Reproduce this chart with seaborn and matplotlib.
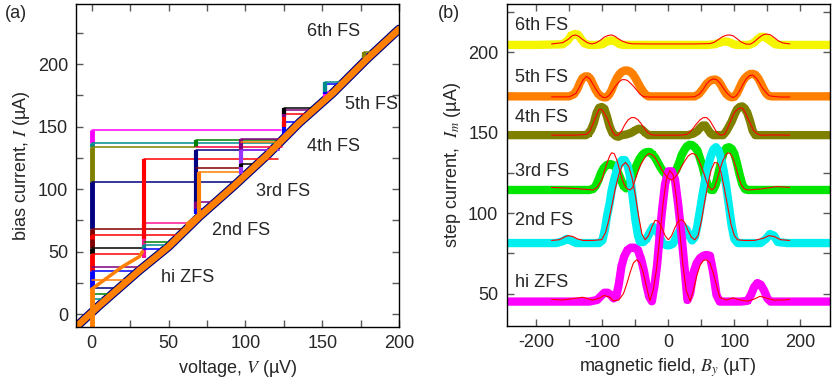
import matplotlib
matplotlib.use('Agg')
import matplotlib.pyplot as plt
import seaborn as sns
from matplotlib.ticker import MultipleLocator

sns.set_theme(style='ticks')
plt.rcParams['font.family'] = ['Liberation Sans', 'DejaVu Sans']
plt.rcParams['mathtext.fontset'] = 'stix'
plt.rcParams['axes.unicode_minus'] = False
plt.rcParams['xtick.direction'] = 'in'
plt.rcParams['ytick.direction'] = 'in'

# ==================== panel (a): I-V curves ====================
# resistive branch
DIAG_V = [-10, 5, 31, 50, 70, 92, 114, 135, 157, 179, 200]
DIAG_I = [-10, 7, 35, 54, 78, 102, 127, 153, 177, 204, 228]

# lower bent parts of the step branches
ZFS_TAIL_V = [0, 10, 20, 31, 33]
ZFS_TAIL_I = [20, 29, 38, 46, 50]
FS2_TAIL_V = [62, 66, 70]
FS2_TAIL_I = [72, 76, 80]

# traces: branch voltage, branch start current, switching current, landing voltage, colour
TR_V = [0, 0, 0, 0, 0, 0, 0, 0, 0, 0, 0, 0, 0, 0, 0,
        34, 34, 34, 34, 34,
        68, 68, 68, 68, 68, 68, 70,
        97, 97, 97, 97,
        125, 125, 125, 125,
        152, 152, 152,
        177, 177]
TR_LO = [137, 134, 105, 68, 53, 60, 48, 34.5, 38, 20, 27.5, 21, 16, 12, -10,
         45, 60, 57.5, 52, 52,
         134, 134, 84, 117, 82, 80, 80,
         130, 112, 138, 118,
         140, 150, 158, 160,
         170, 176, 178,
         200, 205]
TR_HI = [147, 137, 134, 105.5, 68, 63.5, 53, 48, 38, 34.5, 27.5, 21, 16, 12, 20,
         73, 124.5, 57.5, 55, 52,
         139.5, 134, 131.5, 117, 90, 84, 114,
         140, 131, 138, 120,
         154, 160, 163, 165,
         178, 184, 186,
         207, 210]
TR_END = [123, 121, 67, 92, 58, 56, 33, 31, 30, 26, 21, 17, 14, 11, 0,
          62, 121, 49, 47, 44,
          120, 124, 122, 97, 79, 73, 98,
          123, 122, 121, 104,
          137, 141, 142, 144,
          158, 161, 163,
          184, 186]
TR_COL = ['#ff00ff', '#008b8b', '#808000', '#000080', '#800000', '#ff0000', '#000000',
          '#ff0000', '#800080', '#0000ff', '#ff8000', '#000080', '#008000', '#008b8b', '#ff8000',
          '#ff1493', '#ff0000', '#008000', '#008b8b', '#0000ff',
          '#008000', '#ff0040', '#000080', '#800000', '#800080', '#0000ff', '#ff8000',
          '#800080', '#9933ff', '#ff8000', '#000000',
          '#0000ff', '#ff0000', '#800080', '#000000',
          '#ff00ff', '#0000ff', '#008b8b',
          '#000080', '#808000']

A_LABELS = ['6th FS', '5th FS', '4th FS', '3rd FS', '2nd FS', 'hi ZFS']
A_LABEL_V = [140, 165, 140, 107, 78, 45]
A_LABEL_I = [226, 168, 134, 98, 67, 29.5]

# ==================== panel (b): step current vs field ====================
ZFS_B = [-245, -200, -150, -120, -108, -102, -97, -92, -87, -83, -79, -75, -71, -67, -62, -57, -52, -46, -41, -37,
         -33, -29, -25, -21, -17, -14, -10, -5, 0, 5, 10, 15, 20, 25, 29, 33, 38, 43, 48, 53,
         58, 63, 68, 73, 78, 90, 110, 120, 125, 130, 135, 140, 145, 150, 155, 170, 200, 245]
ZFS_I = [45, 45, 45, 45, 46, 48.5, 50.5, 50.5, 49, 47, 48, 56, 67, 73, 77, 78.5, 78.5, 77, 71, 64,
         55, 48, 45.2, 55, 68, 82, 100, 118, 126, 126, 121, 105, 86, 64, 46, 50, 63, 69, 72, 73.5,
         74, 73.5, 63, 49, 45, 45, 45, 45.5, 49, 54, 56.5, 55.5, 52, 47, 45, 45, 45, 45]
ZFS_FIT_B = [-177, -160, -145, -130, -115, -105, -98, -90, -83, -75, -68, -63, -58, -53, -48, -43, -38, -33, -28, -23,
             -18, -13, -8, -3, 2, 7, 12, 17, 22, 27, 33, 38, 43, 48, 53, 58, 63, 68, 73, 78,
             88, 98, 108, 120, 130, 139, 150, 160, 172, 184]
ZFS_FIT_I = [46.3, 46, 46.8, 47.7, 45.9, 47, 48.8, 48, 45.5, 46, 50, 56, 63, 69, 71, 69, 63, 54, 45.5, 52,
             65, 85, 106, 121, 126.5, 124, 110, 90, 68, 52, 45.3, 52, 61, 67.5, 70.5, 71, 69, 63, 55, 47.5,
             46, 47.3, 46, 45.3, 46.5, 48.3, 47, 45.9, 46, 46.3]

FS2_B = [-245, -200, -170, -160, -154, -148, -140, -120, -105, -100, -96, -93, -89, -86, -82, -78, -74, -70, -66, -62,
         -58, -54, -50, -46, -43, -38, -33, -28, -23, -18, -13, -8, -3, 2, 7, 12, 17, 22, 27, 32,
         36, 40, 44, 48, 52, 56, 60, 64, 68, 72, 76, 80, 84, 88, 92, 96, 100, 105, 120, 140,
         148, 154, 160, 166, 180, 200, 245]
FS2_I = [81.4, 81.4, 81.4, 82.5, 84, 83, 81.4, 81.4, 81.4, 83, 90, 98, 106, 114, 121, 127, 131, 133, 133, 130,
         123, 110, 96, 86, 82, 82, 84, 88, 91.5, 90, 85, 81, 80, 80, 81, 85, 89, 91.5, 90, 86,
         83, 85, 92, 102, 112, 121, 129, 135, 139.5, 141, 139, 134, 126, 116, 104, 92, 84, 81.4, 81.4, 81.4,
         84, 87, 86, 82, 81.4, 81.4, 81.4]
FS2_FIT_B = [-177, -165, -158, -152, -145, -138, -129, -115, -101, -95, -90, -85, -80, -75, -70, -65, -60, -55, -50, -45,
             -40, -35, -30, -25, -20, -15, -10, -5, 0, 5, 10, 15, 20, 25, 30, 35, 40, 45, 50, 55,
             60, 65, 70, 75, 80, 85, 90, 95, 100, 105, 115, 130, 145, 152, 160, 170, 184]
FS2_FIT_I = [83, 83.5, 85, 86, 85.5, 84, 83, 83, 83.5, 88, 96, 106, 116, 124, 129.5, 131.5, 129, 122, 111, 98,
             87, 83.4, 86, 91.5, 95.5, 95, 91, 86, 83.4, 86, 91, 95, 96, 94, 89, 85, 83.4, 86, 95, 107,
             118, 127, 131.5, 131, 125, 115, 104, 93, 86, 83.4, 83, 83, 84.5, 86, 85.5, 83.5, 83]

FS3_B = [-245, -200, -150, -120, -114, -110, -106, -102, -98, -93, -88, -84, -80, -76, -72, -68, -64, -60, -56, -52,
         -48, -44, -40, -36, -32, -28, -24, -20, -16, -12, -8, -4, 0, 4, 8, 12, 16, 20, 24, 28,
         32, 36, 40, 44, 48, 52, 56, 60, 64, 68, 72, 76, 80, 84, 88, 92, 96, 100, 104, 108,
         112, 116, 120, 150, 200, 245]
FS3_I = [114.4, 114.4, 114.4, 114.4, 115, 117, 120.6, 125, 128, 130, 130.5, 130, 128.5, 125, 121, 117, 115.4, 117, 121, 126,
         130, 133.5, 136, 137.5, 138, 138, 136.5, 134.5, 131.5, 128.5, 126, 124, 123, 123, 124.5, 127, 131, 136, 139, 141.5,
         142.5, 142.3, 141, 139, 134, 128.8, 122, 117, 114.5, 114.4, 118, 125, 132, 138, 140.5, 141, 140, 137, 131, 124,
         118, 115, 114.4, 114.4, 114.4, 114.4]
FS3_FIT_B = [-177, -150, -125, -114, -108, -101, -97, -93, -89, -86, -82, -78, -74, -70, -66, -62, -58, -54, -50, -46,
             -42, -38, -34, -30, -25, -20, -15, -10, -5, 0, 5, 10, 15, 20, 25, 30, 35, 38, 42, 46,
             50, 54, 58, 62, 66, 70, 74, 78, 82, 86, 90, 94, 98, 102, 106, 110, 115, 121, 140, 164, 184]
FS3_FIT_I = [116, 115.5, 114.8, 114.4, 116, 120.6, 126, 131, 135.5, 137.5, 137, 133, 127, 121, 117, 115, 114.4, 116, 121, 126,
             130, 133, 135.5, 137, 136.5, 134.5, 131, 127, 124, 121.6, 120.6, 122, 125, 129, 132.5, 135.5, 137, 137, 136, 133,
             129, 124.5, 119.5, 116, 114.4, 116, 121, 127, 132, 135.5, 137.5, 137, 134, 129, 123, 118, 115, 114.4, 115, 116.5, 116]

FS4_B = [-245, -200, -150, -125, -121, -117, -113, -109, -105, -101, -97, -93, -89, -85, -80, -76, -70, -63, -56, -50,
         -45, -40, -35, -30, 0, 30, 38, 44, 48, 52, 56, 60, 64, 68, 75, 83, 88, 92, 96, 100,
         104, 108, 112, 116, 120, 124, 128, 132, 150, 200, 245]
FS4_I = [148.5, 148.5, 148.5, 148.5, 149.5, 152, 156, 162, 165.5, 166, 165, 160, 154, 150, 148, 147.5, 148.5, 149, 150, 151.5,
         152.5, 152, 150, 148.5, 148.5, 148.5, 149.5, 151, 153, 154.5, 154.5, 152, 149.5, 148.5, 148.5, 148.5, 151, 154, 157, 161,
         164.5, 166, 166.4, 165, 162, 157, 151, 148.5, 148.5, 148.5, 148.5]
FS4_FIT_B = [-177, -140, -124, -119, -114, -109, -105, -101, -97, -93, -89, -85, -81, -76, -71, -66, -61, -56, -51, -46,
             -41, -36, -31, -26, -20, 0, 20, 28, 33, 38, 43, 48, 53, 58, 63, 68, 73, 77, 81, 85,
             89, 93, 97, 101, 105, 109, 113, 117, 121, 125, 129, 134, 139, 160, 184]
FS4_FIT_I = [148.5, 148.5, 149, 151, 155.7, 161, 164.5, 164.5, 162, 159, 155, 151, 148.5, 148.5, 151, 155, 158, 159.4, 159.4, 158,
             155.5, 152.5, 150, 148.8, 148.5, 148.5, 148.5, 149, 150.5, 153, 155.7, 158, 159.4, 159.4, 157.5, 154, 150.5, 148.8, 148.5, 149,
             152, 156, 160, 163, 164.6, 165.5, 165, 162, 158.5, 155, 151.5, 149.5, 148.5, 148.6, 148.5]

FS5_B = [-245, -200, -150, -143, -138, -134, -130, -126, -122, -118, -114, -110, -106, -102, -98, -94, -90, -86, -82, -78,
         -74, -70, -66, -62, -58, -54, -50, -46, -42, -38, -34, -30, 0, 40, 46, 52, 58, 64, 68, 72,
         76, 80, 84, 88, 92, 96, 100, 104, 108, 112, 116, 120, 124, 128, 132, 136, 140, 144, 148, 152,
         156, 200, 245]
FS5_I = [172.6, 172.6, 172.6, 174, 177, 181, 184, 185, 185, 183.5, 180, 176.5, 174, 172.6, 172, 172, 173.5, 176.5, 180.5, 184,
         186.5, 188, 188.7, 188.7, 188, 186.5, 184, 181, 178, 175.5, 173.5, 172.6, 172.6, 172.6, 174, 177, 180.5, 182.5, 183, 183,
         182, 179.5, 176.5, 174, 172.6, 172, 172.3, 174.5, 178, 181.5, 184, 185.5, 186.5, 186.6, 186, 184, 181, 177.5, 174.5, 173,
         172.6, 172.6, 172.6]
FS5_FIT_B = [-177, -150, -140, -134, -129, -124, -119, -114, -109, -104, -99, -95, -90, -85, -80, -75, -70, -66, -62, -58,
             -53, -48, -43, -38, -33, -25, 0, 30, 40, 47, 53, 58, 63, 68, 73, 78, 83, 88, 93, 98,
             103, 108, 113, 118, 123, 128, 133, 138, 143, 148, 153, 159, 170, 184]
FS5_FIT_I = [172.3, 172.3, 174.5, 179, 183, 185, 183.5, 180, 176.5, 173.5, 172, 171.8, 173, 176, 179, 181.5, 183, 183, 182.5, 181,
             179, 176.5, 174, 172.5, 172.3, 172.2, 172.2, 172.2, 172.4, 174, 177, 180.5, 182.5, 183.5, 183, 181, 178, 175, 173, 171.8,
             173, 176, 180, 183.5, 185.5, 185.8, 184, 181, 177.5, 175, 173, 172.6, 172.2, 172.2]

FS6_B = [-245, -200, -160, -152, -147, -142, -137, -132, -127, -120, -110, -100, -94, -89, -84, -79, -74, -68, -50, 0,
         60, 70, 78, 84, 89, 94, 99, 104, 112, 122, 130, 135, 140, 145, 150, 155, 162, 170, 200, 245]
FS6_I = [204.6, 204.6, 205, 207.5, 210.5, 211.4, 211, 208, 205.5, 204.6, 204.6, 205, 206.5, 207.3, 207.3, 206.5, 205, 204.6, 204.6, 204.6,
         204.6, 205, 206, 206.7, 206.7, 206, 205, 204.6, 204.6, 204.6, 206, 208, 209.6, 209.6, 208.5, 207, 205, 204.6, 204.6, 204.6]
FS6_FIT_B = [-177, -160, -152, -146, -141, -136, -130, -123, -116, -110, -103, -97, -91, -86, -81, -76, -70, -62, -55, -30,
             0, 40, 63, 70, 76, 82, 88, 93, 98, 104, 110, 117, 124, 130, 137, 143, 149, 155, 161, 167, 174, 184]
FS6_FIT_I = [205.2, 206, 208, 210.2, 210.8, 210, 208, 206, 205.2, 205.8, 207.5, 209.5, 210.5, 210.8, 210, 208.5, 207, 205.8, 205.3, 205.2,
             205.2, 205.2, 205.4, 206.3, 208, 209.7, 210.6, 210.8, 210.3, 208.5, 206.5, 205.2, 205, 206.5, 209, 210.8, 211.4, 210.8, 209, 207,
             205.8, 205.2]

B_LABELS = ['6th FS', '5th FS', '4th FS', '3rd FS', '2nd FS', 'hi ZFS']
B_LABEL_I = [216.5, 184.5, 159.5, 125.7, 95.4, 57]

# drawing order: top curve first, hi ZFS last
DATA_B = [FS6_B, FS5_B, FS4_B, FS3_B, FS2_B, ZFS_B]
DATA_I = [FS6_I, FS5_I, FS4_I, FS3_I, FS2_I, ZFS_I]
FIT_B = [FS6_FIT_B, FS5_FIT_B, FS4_FIT_B, FS3_FIT_B, FS2_FIT_B, ZFS_FIT_B]
FIT_I = [FS6_FIT_I, FS5_FIT_I, FS4_FIT_I, FS3_FIT_I, FS2_FIT_I, ZFS_FIT_I]
DATA_COL = ['#f5f500', '#ff8000', '#808000', '#00e600', '#00f0f0', '#ff00ff']

FS = 13

fig = plt.figure(figsize=(8.32, 3.91), dpi=100)
ax1 = fig.add_axes([0.0917, 0.1645, 0.388, 0.825])
ax2 = fig.add_axes([0.609, 0.167, 0.3886, 0.8226])

# ---- panel (a)
sns.lineplot(x=DIAG_V, y=DIAG_I, ax=ax1, color='#000080', lw=6.5, sort=False, estimator=None)
for v, lo, hi, end, c in zip(TR_V, TR_LO, TR_HI, TR_END, TR_COL):
    ax1.plot([v, end], [hi, hi], color=c, lw=1.1)
    ax1.plot([v, v], [lo, hi], color=c, lw=3.5 if v == 0 else 3, solid_capstyle='butt')
sns.lineplot(x=ZFS_TAIL_V, y=ZFS_TAIL_I, ax=ax1, color='#ff8000', lw=2.5, sort=False, estimator=None)
sns.lineplot(x=FS2_TAIL_V, y=FS2_TAIL_I, ax=ax1, color='#ff8000', lw=2.5, sort=False, estimator=None)
sns.lineplot(x=DIAG_V, y=DIAG_I, ax=ax1, color='#ff8000', lw=4.8, sort=False, estimator=None)

for t, v, i in zip(A_LABELS, A_LABEL_V, A_LABEL_I):
    ax1.text(v, i, t, fontsize=FS, ha='left', va='center')

ax1.set_xlim(-10, 200)
ax1.set_ylim(-10, 248)
ax1.xaxis.set_major_locator(MultipleLocator(50))
ax1.xaxis.set_minor_locator(MultipleLocator(25))
ax1.yaxis.set_major_locator(MultipleLocator(50))
ax1.yaxis.set_minor_locator(MultipleLocator(25))
ax1.set_xlabel('voltage, $V$ (µV)', fontsize=FS, labelpad=4)
ax1.set_ylabel('bias current, $I$ (µA)', fontsize=FS, labelpad=4)

# ---- panel (b)
for bx, iy, c in zip(DATA_B, DATA_I, DATA_COL):
    sns.lineplot(x=bx, y=iy, ax=ax2, color=c, lw=6, marker='s', markersize=5,
                 markeredgewidth=0, sort=False, estimator=None)
for bx, iy in zip(FIT_B, FIT_I):
    sns.lineplot(x=bx, y=iy, ax=ax2, color='#ff0000', lw=0.8, sort=False, estimator=None)

for t, i in zip(B_LABELS, B_LABEL_I):
    ax2.text(-232, i, t, fontsize=FS, ha='left', va='center')

ax2.set_xlim(-245, 245)
ax2.set_ylim(30, 230)
ax2.xaxis.set_major_locator(MultipleLocator(100))
ax2.xaxis.set_minor_locator(MultipleLocator(50))
ax2.yaxis.set_major_locator(MultipleLocator(50))
ax2.yaxis.set_minor_locator(MultipleLocator(25))
ax2.set_xlabel('magnetic field, $B_y$ (µT)', fontsize=FS, labelpad=4)
ax2.set_ylabel('step current,  $I_m$ (µA)', fontsize=FS, labelpad=4)

for ax in (ax1, ax2):
    ax.tick_params(which='both', direction='in', top=True, right=True,
                   length=5, width=1, color='0.35', labelsize=FS, pad=6)
    for s in ax.spines.values():
        s.set_color('black')
        s.set_linewidth(1)

fig.text(0.006, 0.965, '(a)', fontsize=FS, va='center', ha='left')
fig.text(0.526, 0.965, '(b)', fontsize=FS, va='center', ha='left')

fig.savefig('out.png', dpi=100)
